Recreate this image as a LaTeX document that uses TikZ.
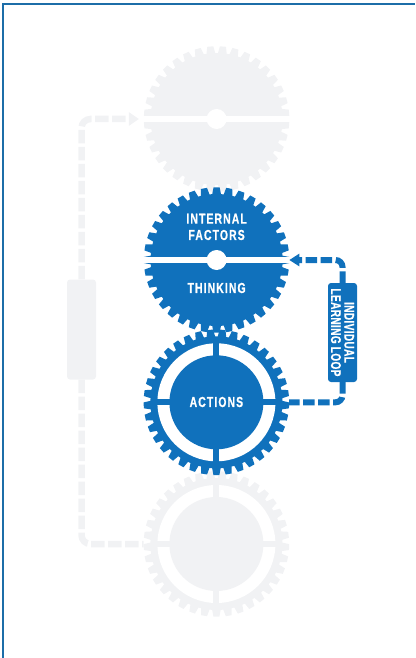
\documentclass[tikz,border=0pt]{standalone}
\usepackage{fontspec}
\setmainfont{Liberation Sans}[FakeStretch=0.72,LetterSpace=7.5,FakeBold=0.6]
\usetikzlibrary{arrows.meta}
\definecolor{loopBlue}{HTML}{1071BC}
\definecolor{loopGrey}{HTML}{F1F2F4}
\definecolor{edgeBlue}{HTML}{1C6DA8}
\newcommand{\gearTeeth}[3]{% colour, number of teeth, rotation
    \pgfmathsetmacro{\toothStep}{360/#2}
    \fill[#1] (#3-0.38*\toothStep:66)
        \foreach \i in {1,...,#2} {
            -- (#3+\i*\toothStep-\toothStep-0.38*\toothStep:66)
            -- (#3+\i*\toothStep-\toothStep-0.24*\toothStep:72.8)
            -- (#3+\i*\toothStep-\toothStep+0.24*\toothStep:72.8)
            -- (#3+\i*\toothStep-\toothStep+0.38*\toothStep:66)
        } -- cycle;
}
\newcommand{\splitGear}[3]{% colour, number of teeth, rotation
    \gearTeeth{#1}{#2}{#3}
    \fill[white] (-74,-3.3) rectangle (74,3.3);
    \fill[white] (0,0) circle (10);
}
\newcommand{\ringGear}[3]{% colour, number of teeth, rotation
    \gearTeeth{#1}{#2}{#3}
    \fill[white] (0,0) circle (59);
    \fill[#1] (0,0) circle (47);
    \fill[#1] (-61,-3) rectangle (61,3);
    \fill[#1] (-3,-61) rectangle (3,61);
}
\tikzset{
    gearNode/.style={circle, minimum size=145pt, inner sep=0pt},
    gearLabel/.style={text=white, font=\bfseries\fontsize{14.5}{14.5}\selectfont, inner sep=0pt},
    loopBox/.style={rectangle, rounded corners=3pt, fill=#1, inner sep=0pt},
    blueLoop/.style={draw=loopBlue, line width=6pt, dash pattern=on 11.5pt off 3.5pt, rounded corners=7pt},
    greyLoop/.style={draw=loopGrey, line width=6.5pt, dash pattern=on 13.5pt off 3.5pt, rounded corners=9pt},
}
\begin{document}
\begin{tikzpicture}[x=1pt, y=-1pt]
    \useasboundingbox (0,0) rectangle (415,658);
    \draw[edgeBlue, line width=1.5pt] (3,658) -- (3,4) -- (415,4);

    \node[gearNode] (upperGear) at (216.6,119) {};
    \node[gearNode] (thinkingGear) at (216.6,260) {};
    \node[gearNode] (actionsGear) at (216.4,402.3) {};
    \node[gearNode] (lowerGear) at (216.4,544) {};
    \node[loopBox=loopGrey, minimum width=29pt, minimum height=100pt] (greyBox) at (81.5,329.5) {};

    % grey loop goes under the gears
    \draw[greyLoop] (greyBox.south) |- (lowerGear.west);
    \draw[greyLoop, -{Triangle[length=10pt, width=13pt]}, shorten >=5pt] (greyBox.north) |- (upperGear.west);

    \begin{scope}[shift={(upperGear.center)}]
        \splitGear{loopGrey}{36}{5}
    \end{scope}
    \begin{scope}[shift={(lowerGear.center)}]
        \ringGear{loopGrey}{37}{90}
    \end{scope}
    \begin{scope}[shift={(thinkingGear.center)}]
        \splitGear{loopBlue}{36}{0}
    \end{scope}
    \begin{scope}[shift={(actionsGear.center)}]
        \ringGear{loopBlue}{37}{90}
    \end{scope}

    \node[gearLabel] (internalText) at (216.6,218.7) {INTERNAL};
    \node[gearLabel] (factorsText) at (216.6,235) {FACTORS};
    \node[gearLabel] (thinkingText) at (216.6,288) {THINKING};
    \node[gearLabel] (actionsText) at (216.4,402) {ACTIONS};

    \node[loopBox=loopBlue, minimum width=29pt, minimum height=99pt] (learningBox) at (342.5,332.5) {};
    \node[gearLabel, rotate=-90, align=center, font=\bfseries\fontsize{14}{13.3}\selectfont\addfontfeature{LetterSpace=2.5}] (learningText) at (342.5,332.5) {INDIVIDUAL\\LEARNING LOOP};

    \draw[blueLoop] (learningBox.south) |- (actionsGear.east);
    \draw[blueLoop, -{Triangle[length=10pt, width=12pt]}] (learningBox.north) |- (thinkingGear.east);
\end{tikzpicture}
\end{document}
